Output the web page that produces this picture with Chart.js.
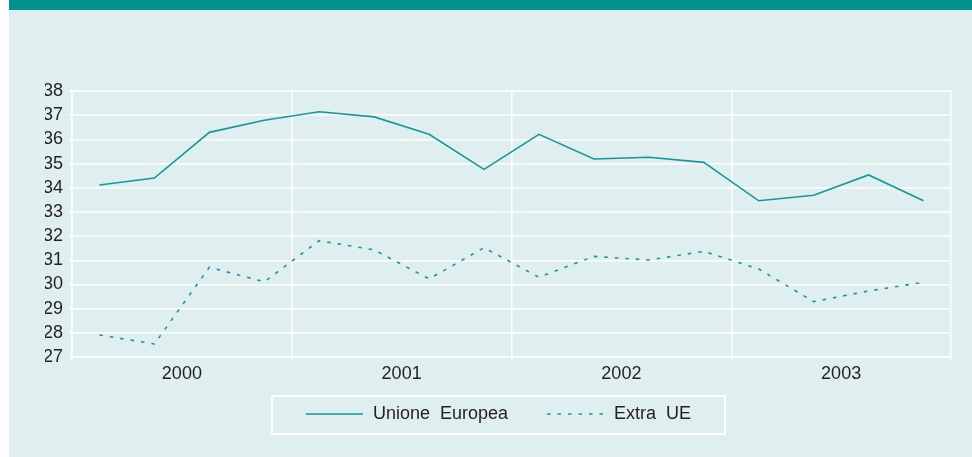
<!DOCTYPE html>
<html>
<head>
<meta charset="utf-8">
<script src="https://cdn.jsdelivr.net/npm/chart.js@4"></script>
<style>
    body { margin: 0; background: #fff; }
    #header { position: absolute; left: 9px; top: 0; width: 963px; height: 10px; background: #00928f; }
    #wrap { position: absolute; left: 9px; top: 10px; width: 963px; height: 447px; background: #dfeeee; }
</style>
</head>
<body>
<div id="header"></div>
<div id="wrap"><canvas id="chart" width="963" height="447"></canvas></div>
<script>
// quarterly values, 2000-2003
const years = ['2000', '2001', '2002', '2003'];
const quartersPerYear = 4;
const seriesNames = ['Unione  Europea', 'Extra  UE'];
const unioneEuropea = [34.11, 34.40, 36.29, 36.79, 37.14, 36.93, 36.21, 34.76, 36.21, 35.19, 35.26, 35.05, 33.46, 33.69, 34.53, 33.46];
const extraUE = [27.91, 27.54, 30.71, 30.11, 31.81, 31.43, 30.23, 31.52, 30.30, 31.16, 31.01, 31.37, 30.64, 29.29, 29.73, 30.09];
const yMin = 27, yMax = 38;

const lineColor = '#14999a';
const textColor = '#231f20';
const fontFamily = '"Liberation Sans", Arial, sans-serif';

function toPoints(values) {
    return values.map((v, i) => ({ x: i + 0.5, y: v }));
}

// legend drawn by hand: line sample + text, framed in white
const boxLegend = {
    id: 'boxLegend',
    afterDraw(chart) {
        const ctx = chart.ctx;
        const datasets = chart.data.datasets;
        ctx.save();
        ctx.font = '18px ' + fontFamily;
        const sample = 57, gap = 10, between = 39;
        const widths = datasets.map(d => ctx.measureText(d.label).width);
        let total = 0;
        widths.forEach((w, i) => { total += sample + gap + w + (i > 0 ? between : 0); });
        const cx = 489.5, cy = 404;
        ctx.strokeStyle = '#ffffff';
        ctx.lineWidth = 2;
        ctx.strokeRect(263, 386, 453, 38);
        let x = cx - total / 2;
        datasets.forEach((d, i) => {
            ctx.strokeStyle = d.borderColor;
            ctx.lineWidth = d.borderWidth;
            ctx.setLineDash(d.borderDash || []);
            ctx.beginPath();
            ctx.moveTo(x, cy);
            ctx.lineTo(x + sample, cy);
            ctx.stroke();
            ctx.setLineDash([]);
            x += sample + gap;
            ctx.fillStyle = textColor;
            ctx.textBaseline = 'middle';
            ctx.fillText(d.label, x, cy);
            x += widths[i] + between;
        });
        ctx.restore();
    }
};

const ctx = document.getElementById('chart').getContext('2d');
new Chart(ctx, {
    type: 'line',
    data: {
        datasets: [{
            label: seriesNames[0],
            data: toPoints(unioneEuropea),
            borderColor: lineColor,
            borderWidth: 1.6,
            pointRadius: 0,
            tension: 0
        }, {
            label: seriesNames[1],
            data: toPoints(extraUE),
            borderColor: lineColor,
            borderWidth: 1.6,
            borderDash: [3.5, 7],
            pointRadius: 0,
            tension: 0
        }]
    },
    options: {
        responsive: false,
        animation: false,
        layout: { padding: { left: 36, right: 21, top: 81, bottom: 70 } },
        plugins: {
            legend: { display: false },
            tooltip: { enabled: false }
        },
        scales: {
            x: {
                type: 'linear',
                min: 0,
                max: years.length * quartersPerYear,
                afterFit: s => { s.height = 30; },
                border: { color: '#ffffff', width: 1.5 },
                grid: {
                    color: c => (c.tick && c.tick.value % quartersPerYear === 0) ? '#ffffff' : 'rgba(0,0,0,0)',
                    lineWidth: 1.5,
                    tickLength: 4
                },
                ticks: {
                    stepSize: 1,
                    autoSkip: false,
                    maxRotation: 0,
                    padding: 2,
                    color: textColor,
                    font: { family: fontFamily, size: 18 },
                    callback: v => (v % quartersPerYear === 2) ? years[Math.floor(v / quartersPerYear)] : ''
                }
            },
            y: {
                min: yMin,
                max: yMax,
                afterFit: s => { s.width = 27; },
                border: { color: '#ffffff', width: 1.5 },
                grid: { color: '#ffffff', lineWidth: 1.5, tickLength: 3 },
                ticks: {
                    stepSize: 1,
                    autoSkip: false,
                    padding: 6,
                    color: textColor,
                    font: { family: fontFamily, size: 18 }
                }
            }
        }
    },
    plugins: [boxLegend]
});
</script>
</body>
</html>
